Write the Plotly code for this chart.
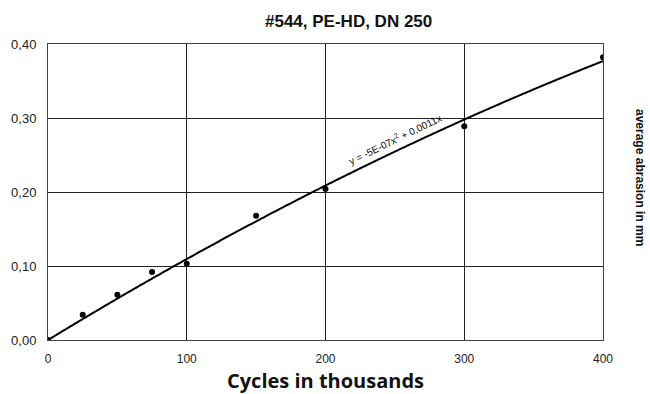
import numpy as np
import plotly.graph_objects as go

cycles = [0, 25, 50, 75, 100, 150, 200, 300, 400]
abrasion = [0.0, 0.034, 0.061, 0.092, 0.103, 0.168, 0.204, 0.289, 0.382]
x_ticks = [0, 100, 200, 300, 400]
y_ticks = [0.0, 0.1, 0.2, 0.3, 0.4]
y_tick_labels = ["0,00", "0,10", "0,20", "0,30", "0,40"]
title = "#544, PE-HD, DN 250"
x_title = "Cycles in thousands"
y_title = "average abrasion in mm"
equation = "y = -5E-07x<sup>2</sup> + 0,0011x"

# quadratic trend through origin (least squares)
xa = np.array(cycles, dtype=float)
ya = np.array(abrasion, dtype=float)
A = np.vstack([xa**2, xa]).T
coef, *_ = np.linalg.lstsq(A, ya, rcond=None)
xf = np.linspace(0, 400, 200)
yf = coef[0] * xf**2 + coef[1] * xf

fig = go.Figure()
fig.add_trace(go.Scatter(x=xf, y=yf, mode="lines",
                         line=dict(color="black", width=2, shape="spline"), hoverinfo="skip"))
fig.add_trace(go.Scatter(x=cycles, y=abrasion, mode="markers",
                         marker=dict(color="black", size=6)))

fig.update_layout(
    width=650, height=394,
    margin=dict(l=48, r=47, t=44, b=54),
    paper_bgcolor="white", plot_bgcolor="white",
    showlegend=False,
    font=dict(family="Liberation Sans, Arial", color="black"),
)
fig.update_xaxes(range=[0, 400], tickvals=x_ticks, ticktext=[str(t) for t in x_ticks],
                 showgrid=True, gridcolor="#222", gridwidth=1,
                 showline=True, linecolor="#444", linewidth=1, mirror=True,
                 zeroline=False, ticks="outside", ticklen=8, tickcolor="rgba(0,0,0,0)",
                 tickfont=dict(size=12, color="#222"))
fig.update_yaxes(range=[0, 0.4], tickvals=y_ticks, ticktext=y_tick_labels,
                 showgrid=True, gridcolor="#222", gridwidth=1,
                 showline=True, linecolor="#444", linewidth=1, mirror=True,
                 zeroline=False, ticks="outside", ticklen=8, tickcolor="rgba(0,0,0,0)",
                 tickfont=dict(size=13, color="#222"))

fig.add_annotation(x=(348 - 48) / 555, y=(394 - 22 - 54) / 296, xref="paper", yref="paper",
                   text="<b>" + title + "</b>", showarrow=False,
                   xanchor="center", yanchor="middle",
                   font=dict(size=17, family="Liberation Sans, Arial", color="#111"))
fig.add_annotation(x=0.5, y=-55 / 296, xref="paper", yref="paper",
                   text="<b>" + x_title + "</b>", showarrow=False,
                   xanchor="center", yanchor="bottom", borderpad=0,
                   font=dict(size=20, family="Open Sans", color="#111"))
fig.add_annotation(x=1 + 37 / 555, y=(394 - 177 - 54) / 296, xref="paper", yref="paper",
                   text="<b>" + y_title + "</b>", showarrow=False, textangle=90,
                   xanchor="center", yanchor="middle",
                   font=dict(size=12, family="Liberation Sans, Arial", color="#111"))
fig.add_annotation(x=250, y=0.272, text=equation, showarrow=False, textangle=-26,
                   font=dict(size=10, family="Liberation Sans, Arial", color="#111"))

fig.write_html("out.html")
